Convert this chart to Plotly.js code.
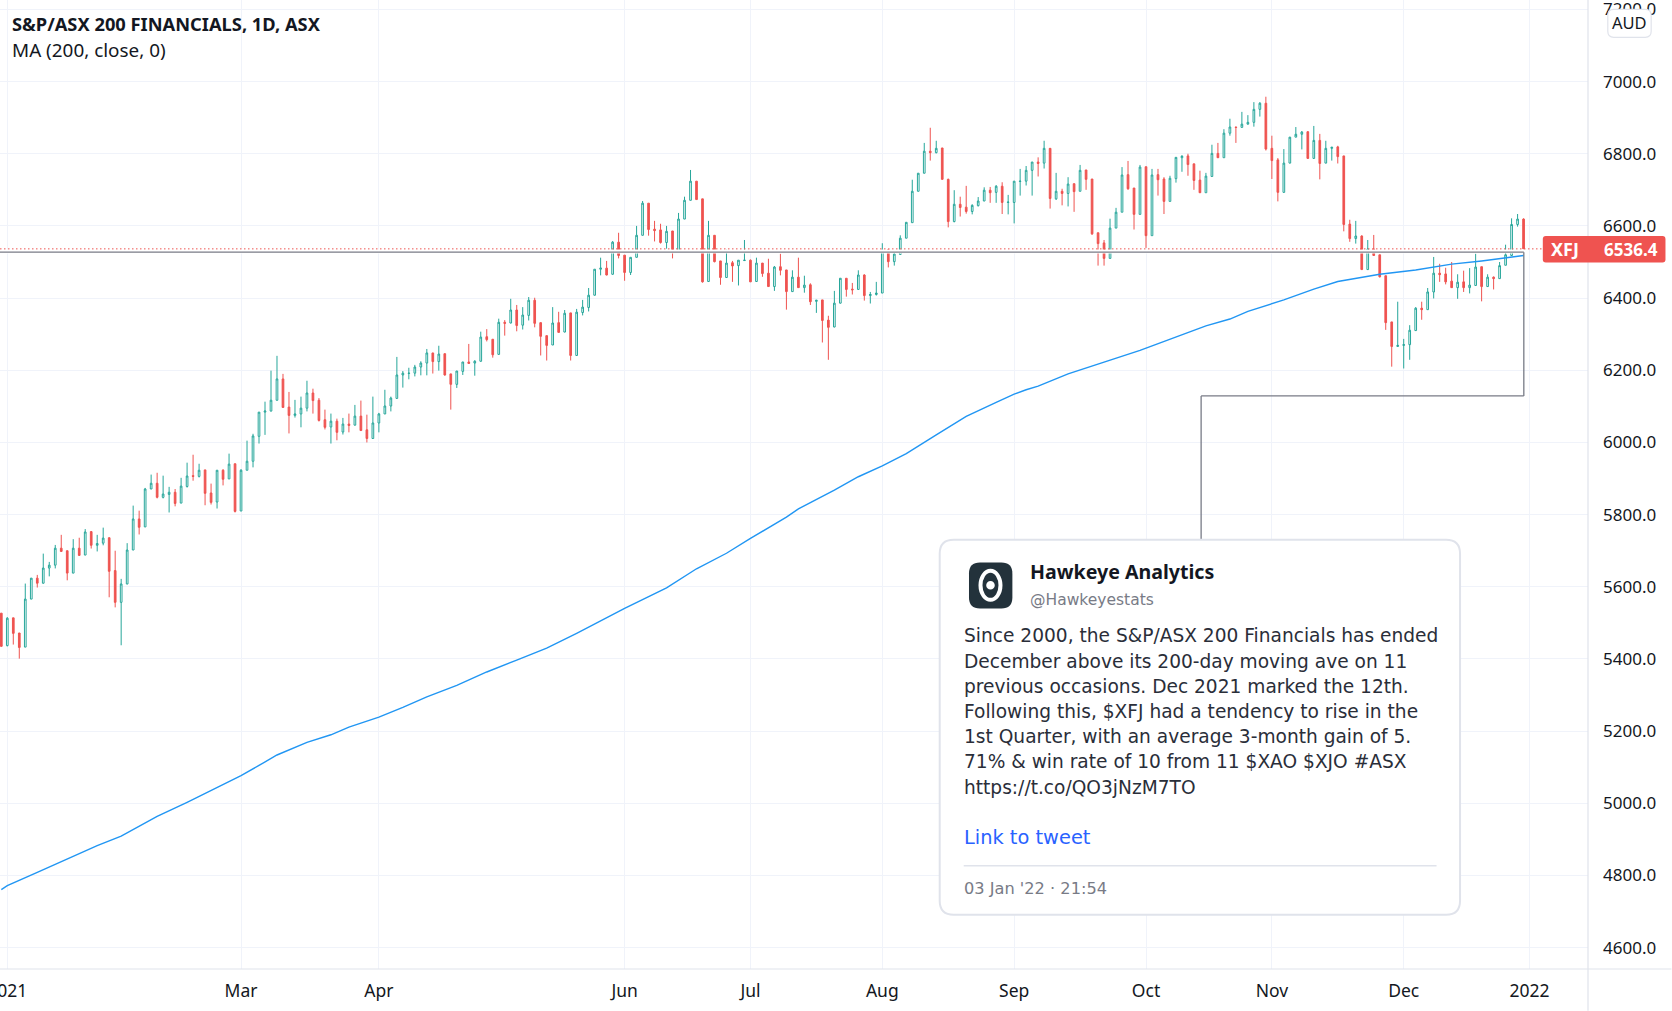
<!DOCTYPE html>
<html><head><meta charset="utf-8">
<script src="https://cdn.plot.ly/plotly-3.0.1.min.js"></script>
<style>html,body{margin:0;padding:0;background:#fff;overflow:hidden}#c{width:1672px;height:1011px}</style>
</head><body><div id="c"></div>
<script>
const opens=[5527,5437,5514,5472,5433,5566,5624,5610,5652,5660,
5707,5700,5638,5707,5688,5753,5715,5721,5736,5645,
5557,5608,5702,5788,5766,5871,5887,5848,5856,5862,
5832,5878,5908,5906,5924,5860,5835,5923,5899,5941,
5810,5923,5948,6017,6084,6087,6117,6176,6098,6075,
6079,6095,6137,6117,6063,6043,6059,6029,6051,6048,
6073,6035,6011,6054,6079,6101,6122,6187,6191,6192,
6209,6220,6248,6224,6246,6190,6161,6197,6223,6220,
6225,6293,6286,6244,6333,6331,6367,6325,6352,6394,
6332,6296,6270,6332,6306,6359,6241,6360,6374,6408,
6480,6483,6466,6555,6519,6471,6513,6574,6663,6591,
6589,6554,6586,6532,6619,6671,6724,6675,6446,6574,
6503,6457,6498,6490,6504,6505,6446,6497,6469,6432,
6487,6478,6418,6458,6429,6437,6391,6395,6339,6320,
6386,6455,6425,6424,6464,6407,6410,6414,6534,6501,
6521,6566,6609,6696,6746,6807,6803,6816,6729,6612,
6660,6652,6640,6656,6669,6699,6693,6710,6665,6665,
6723,6724,6754,6777,6774,6815,6675,6696,6690,6717,
6696,6755,6730,6581,6553,6510,6594,6638,6742,6705,
6632,6764,6573,6742,6730,6668,6731,6789,6794,6772,
6727,6692,6737,6801,6789,6857,6874,6873,6882,6887,
6923,6940,6815,6783,6693,6774,6846,6854,6861,6787,
6837,6774,6815,6819,6794,6605,6565,6572,6479,6536,
6520,6462,6334,6266,6269,6271,6310,6372,6368,6417,
6469,6467,6447,6429,6445,6429,6435,6487,6432,6458,
6454,6491,6518,6604,6619];
const highs=[5527,5516,5514,5472,5609,5624,5633,5692,5669,5716,
5744,5700,5732,5736,5760,5753,5744,5764,5736,5700,
5622,5721,5825,5811,5874,5911,5916,5908,5877,5871,
5902,5944,5966,5941,5924,5886,5923,5926,5969,5941,
5926,6005,6024,6084,6113,6199,6240,6190,6140,6118,
6127,6171,6149,6123,6091,6080,6066,6068,6080,6104,
6116,6077,6127,6082,6146,6127,6237,6198,6207,6215,
6225,6259,6248,6268,6246,6190,6198,6223,6273,6228,
6307,6314,6286,6343,6339,6398,6381,6375,6403,6401,
6332,6296,6375,6362,6367,6359,6370,6395,6428,6480,
6512,6503,6558,6581,6519,6513,6600,6669,6663,6614,
6606,6600,6586,6636,6681,6755,6724,6675,6614,6574,
6503,6534,6503,6505,6561,6507,6512,6497,6509,6489,
6523,6478,6477,6512,6462,6441,6395,6395,6351,6420,
6455,6455,6442,6477,6466,6417,6445,6552,6535,6533,
6574,6610,6728,6746,6830,6872,6836,6816,6731,6699,
6681,6711,6660,6680,6707,6708,6713,6721,6686,6724,
6758,6766,6777,6790,6836,6815,6747,6703,6735,6717,
6769,6755,6730,6581,6561,6620,6650,6763,6780,6705,
6769,6764,6758,6758,6735,6739,6791,6796,6800,6772,
6753,6747,6825,6830,6868,6897,6874,6916,6907,6943,
6943,6958,6850,6788,6813,6846,6874,6863,6862,6877,
6855,6836,6818,6822,6794,6617,6614,6574,6561,6575,
6520,6462,6334,6390,6287,6325,6375,6390,6428,6514,
6495,6484,6500,6466,6476,6483,6523,6487,6466,6460,
6500,6548,6621,6633,6621];
const lows=[5435,5435,5440,5401,5433,5566,5598,5609,5629,5651,
5698,5618,5638,5687,5688,5706,5698,5715,5571,5543,
5438,5607,5702,5745,5766,5871,5845,5845,5806,5823,
5832,5875,5894,5903,5826,5828,5817,5881,5899,5806,
5810,5923,5931,5997,6021,6086,6116,6097,6025,6069,
6042,6086,6080,6058,6036,5997,6006,6022,6028,6047,
6033,6000,6011,6028,6079,6086,6122,6152,6175,6183,
6186,6186,6191,6199,6185,6091,6151,6187,6219,6185,
6224,6280,6235,6244,6296,6330,6308,6313,6338,6319,
6241,6227,6270,6305,6305,6227,6241,6352,6363,6407,
6463,6463,6465,6510,6448,6464,6513,6574,6573,6557,
6551,6537,6510,6532,6619,6671,6673,6443,6446,6499,
6437,6457,6445,6435,6504,6445,6446,6459,6431,6420,
6463,6368,6418,6429,6415,6381,6359,6277,6229,6319,
6385,6404,6410,6424,6393,6385,6407,6414,6485,6490,
6521,6566,6609,6696,6746,6781,6801,6729,6596,6610,
6626,6634,6632,6654,6669,6664,6664,6633,6632,6607,
6684,6712,6684,6737,6759,6648,6672,6657,6654,6639,
6696,6700,6575,6490,6490,6510,6594,6638,6700,6590,
6632,6539,6573,6684,6633,6668,6720,6750,6739,6700,
6692,6692,6737,6789,6789,6850,6830,6873,6881,6875,
6903,6809,6730,6668,6693,6774,6846,6812,6787,6787,
6729,6774,6781,6773,6585,6556,6551,6479,6479,6518,
6457,6312,6210,6266,6205,6229,6310,6340,6368,6399,
6445,6438,6429,6398,6417,6413,6435,6391,6432,6424,
6454,6491,6518,6598,6536.4];
const closes=[5435,5513,5471,5432,5566,5624,5610,5652,5660,5707,
5698,5638,5707,5687,5752,5715,5720,5735,5643,5557,
5608,5702,5788,5765,5871,5887,5848,5857,5862,5831,
5879,5907,5906,5923,5859,5834,5923,5898,5940,5809,
5923,5948,6018,6084,6087,6117,6176,6097,6075,6079,
6095,6137,6116,6061,6042,6059,6028,6051,6047,6073,
6033,6011,6054,6079,6101,6123,6187,6192,6192,6209,
6220,6248,6224,6245,6187,6161,6198,6223,6219,6225,
6292,6285,6243,6333,6330,6367,6324,6353,6394,6330,
6294,6269,6331,6305,6358,6241,6361,6375,6408,6480,
6483,6464,6555,6518,6471,6513,6574,6663,6590,6587,
6554,6585,6532,6619,6671,6724,6673,6445,6574,6501,
6457,6497,6489,6505,6505,6445,6497,6468,6432,6486,
6477,6418,6458,6429,6436,6390,6394,6338,6319,6386,
6455,6424,6423,6464,6407,6410,6414,6533,6501,6522,
6566,6610,6696,6746,6807,6803,6815,6729,6612,6660,
6651,6640,6657,6669,6699,6692,6710,6665,6666,6724,
6724,6754,6777,6773,6815,6676,6696,6690,6716,6695,
6754,6729,6578,6551,6510,6594,6638,6741,6703,6632,
6763,6573,6741,6728,6668,6732,6790,6793,6770,6726,
6692,6738,6801,6789,6857,6874,6873,6882,6887,6923,
6940,6813,6781,6693,6774,6846,6854,6860,6787,6837,
6773,6815,6818,6792,6604,6565,6572,6479,6536,6518,
6459,6332,6266,6269,6271,6311,6372,6368,6417,6469,
6465,6445,6429,6444,6429,6436,6486,6432,6458,6454,
6490,6520,6604,6619,6536.4];
const maDays=[-1,0,5,10,15,19,25,30,35,39,42,45,50,54,57,62,66,70,75,80,85,90,95,103,110,115,120,124,130,132,138,142,146,150,155,160,165,168,170,172,177,189,200,204,207,213,218,222,229,235,241,246,253];
const maValues=[4761,4772,4809,4846,4883,4909,4964,5003,5043,5077,5105,5134,5169,5190,5211,5239,5266,5295,5327,5364,5397,5430,5471,5540,5597,5650,5693,5734,5793,5816,5868,5905,5935,5969,6021,6072,6111,6134,6146,6156,6190,6255,6323,6342,6363,6395,6425,6446,6466,6478,6494,6503,6518];
const monthDays=[0,39,62,103,124,146,168,190,211,233,254];
const monthLabels=['2021','Mar','Apr','Jun','Jul','Aug','Sep','Oct','Nov','Dec','2022'];
const priceTicks=[4600,4800,5000,5200,5400,5600,5800,6000,6200,6400,6600,6800,7000,7200];
const titleMain='S&P/ASX 200 FINANCIALS, 1D, ASX';
const titleMA='MA (200, close, 0)';
const tweetLines=['Since 2000, the S&P/ASX 200 Financials has ended','December above its 200-day moving ave on 11','previous occasions. Dec 2021 marked the 12th.','Following this, $XFJ had a tendency to rise in the','1st Quarter, with an average 3-month gain of 5.','71% & win rate of 10 from 11 $XAO $XJO #ASX','https://t.co/QO3jNzM7TO'];
const lastClose=6536.4, calloutPrice=6527.5;

const W=1672,H=1011,R=83.5,B=41.7, PW=W-R, PH=H-B;
const PX=x=>x/PW, PY=y=>1-y/PH;
const up='#26a69a',dn='#ef5350',gridc='#f0f3fa',axisc='#e0e3eb',grey='#787b86';
const days=opens.map((_,k)=>k-1);
const traces=[
 {type:'candlestick',x:days,open:opens,high:highs,low:lows,close:closes,whiskerwidth:0,
  increasing:{line:{color:up,width:1},fillcolor:'#ffffff'},
  decreasing:{line:{color:dn,width:1},fillcolor:dn},showlegend:false,hoverinfo:'skip'},
 {type:'scatter',mode:'lines',x:maDays,y:maValues,line:{color:'#2196f3',width:1.4},showlegend:false,hoverinfo:'skip'}
];
const rr=(x0,y0,x1,y1,r)=>{const X=PX,Y=PY;
 return `M${X(x0+r)},${Y(y0)}L${X(x1-r)},${Y(y0)}Q${X(x1)},${Y(y0)} ${X(x1)},${Y(y0+r)}L${X(x1)},${Y(y1-r)}Q${X(x1)},${Y(y1)} ${X(x1-r)},${Y(y1)}L${X(x0+r)},${Y(y1)}Q${X(x0)},${Y(y1)} ${X(x0)},${Y(y1-r)}L${X(x0)},${Y(y0+r)}Q${X(x0)},${Y(y0)} ${X(x0+r)},${Y(y0)}Z`;};
const pline=(x0,y0,x1,y1,c,w,dash)=>({type:'line',xref:'paper',yref:'paper',x0:PX(x0),x1:PX(x1),y0:PY(y0),y1:PY(y1),line:{color:c,width:w,dash:dash||'solid'},layer:'above'});
const ell=(cx,cy,rx,ry,c)=>({type:'circle',xref:'paper',yref:'paper',x0:PX(cx-rx),x1:PX(cx+rx),y0:PY(cy-ry),y1:PY(cy+ry),fillcolor:c,line:{width:0},layer:'above'});
const dark='#23323b';
const shapes=[
 pline(PW,0,PW,H,axisc,1.2),
 pline(0,PH,W,PH,axisc,1.2),
 pline(0,251.6,1524.3,251.6,'#ffffff',4),
 pline(0,252.3,1524.3,252.3,grey,1.3),
 pline(1524.3,252.3,1524.3,396,grey,1.3),
 pline(1201.5,396,1524.3,396,grey,1.3),
 pline(1201.5,396,1201.5,540,grey,1.3),
 {type:'line',xref:'paper',yref:'y',x0:0,x1:PX(1544),y0:lastClose,y1:lastClose,line:{color:dn,width:1,dash:'1.5px,2.5px'},layer:'above'},
 {type:'path',xref:'paper',yref:'paper',path:rr(940,540,1460.5,915,14),fillcolor:'#ffffff',line:{color:axisc,width:2},layer:'above'},
 pline(964,866,1437,866,axisc,1.6),
 {type:'path',xref:'paper',yref:'paper',path:rr(969.3,562.7,1012.7,608.7,11),fillcolor:dark,line:{width:0},layer:'above'},
 ell(990.8,585.5,12,16.5,'#ffffff'),ell(990.8,585.5,8,12.5,dark),ell(990.8,585.5,4.3,4.3,'#ffffff'),
 {type:'path',xref:'paper',yref:'paper',path:rr(1543.3,236,1666,262.7,3),fillcolor:dn,line:{width:0},layer:'above'},
 {type:'path',xref:'paper',yref:'paper',path:rr(1608.3,9.3,1651.7,37.3,6),fillcolor:'#ffffff',line:{color:axisc,width:1.2},layer:'above'}
];
const F='Noto Sans, sans-serif', D='DejaVu Sans, sans-serif';
const note=(t,x,y,size,color,extra,fam)=>Object.assign({text:t,xref:'paper',yref:'paper',x:PX(x),y:PY(y),xanchor:'left',yanchor:'middle',showarrow:false,borderpad:0,borderwidth:0,font:{family:fam||F,size:size,color:color}},extra||{});
const lineY=[636,661.5,687,712,737,762,787.5];
const annotations=[
 note('<b>'+titleMain+'</b>',12,24,18.3,'#131722'),
 note(titleMA,12,50,18.9,'#131722'),
 note('<b>Hawkeye Analytics</b>',1030,571.5,19.6,'#131722'),
 note('@Hawkeyestats',1030,600,15.5,'#787b86',{},D),
 ...tweetLines.map((t,k)=>note(t,964,lineY[k],18.6,'#2a2e39',{},D)),
 note('Link to tweet',964,838,19.4,'#2962ff',{},D),
 note("03 Jan '22 · 21:54",964,888.5,16.2,'#787b86',{},D),
 note('AUD',1630,23,16.5,'#131722',{xanchor:'center'}),
 note('<b>XFJ</b>',1565.5,249.5,18,'#ffffff',{xanchor:'center'}),
 note('<b>6536.4</b>',1659,249.5,17,'#ffffff',{xanchor:'right'})
];
const layout={
 width:W,height:H,autosize:false,paper_bgcolor:'#ffffff',plot_bgcolor:'#ffffff',
 margin:{l:0,r:R,t:0,b:B,pad:0},showlegend:false,dragmode:false,hovermode:false,
 boxgap:0.6,
 xaxis:{range:[-1.218,263.75],type:'linear',tickmode:'array',tickvals:monthDays,ticktext:monthLabels,showgrid:true,gridcolor:gridc,gridwidth:1,zeroline:false,showline:false,ticks:'',ticklabeloverflow:'allow',rangeslider:{visible:false},tickfont:{family:F,size:17.5,color:'#131722'},ticklabelstandoff:9,fixedrange:true},
 yaxis:{side:'right',range:[4541,7226],type:'linear',tickmode:'array',tickvals:priceTicks,ticktext:priceTicks.map(v=>v.toFixed(1)),showgrid:true,gridcolor:gridc,gridwidth:1,zeroline:false,showline:false,ticks:'',ticklabeloverflow:'allow',tickfont:{family:F,size:17,color:'#131722'},ticklabelstandoff:14,fixedrange:true},
 shapes:shapes,annotations:annotations
};
Plotly.newPlot('c',traces,layout,{displayModeBar:false,staticPlot:true,responsive:false});
</script></body></html>
